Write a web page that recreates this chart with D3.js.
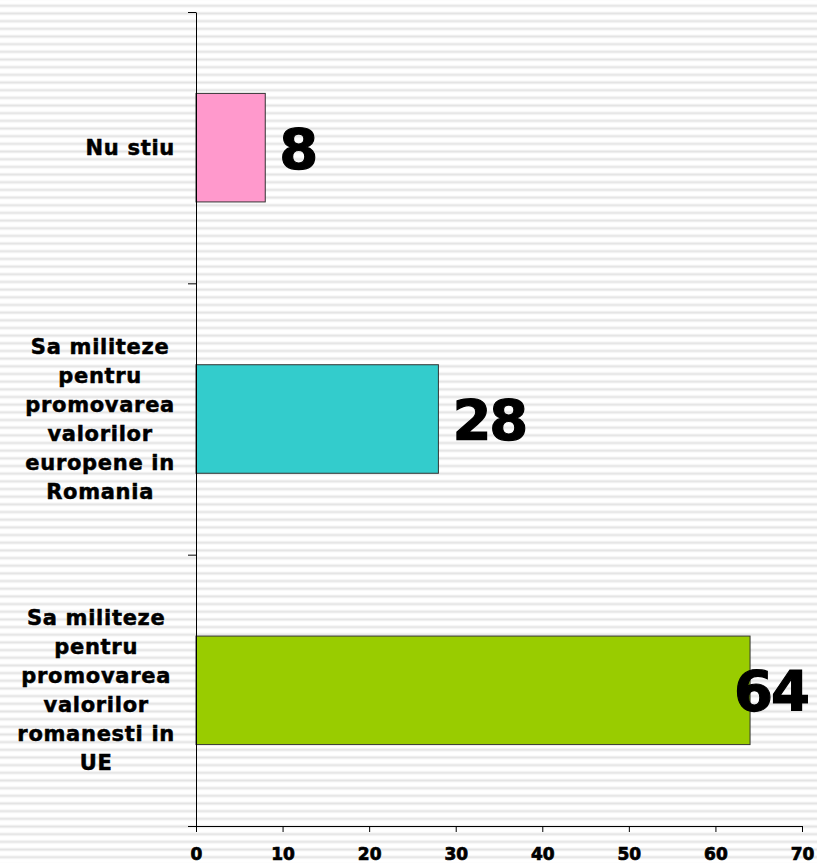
<!DOCTYPE html>
<html>
<head>
<meta charset="utf-8">
<script src="https://cdn.jsdelivr.net/npm/d3@7"></script>
<style>
  body { margin: 0; background: #fff; }
  svg text { font-family: "DejaVu Sans", Verdana, sans-serif; font-weight: bold; fill: #000; stroke: #000; }
</style>
</head>
<body>
<div id="chart"></div>
<script>
// data, top to bottom
var categories = ["Nu stiu", "europene", "romanesti"];
var categoryLines = [
    ["Nu stiu"],
    ["Sa militeze", "pentru", "promovarea", "valorilor", "europene in", "Romania"],
    ["Sa militeze", "pentru", "promovarea", "valorilor", "romanesti in", "UE"]
];
var values = [8, 28, 64];
var barColors = ["#FF99CC", "#33CCCC", "#99CC00"];
var xTicks = [0, 10, 20, 30, 40, 50, 60, 70];

var svgWidth = 817;
var svgHeight = 863;
var margin = { top: 12, left: 196, right: 15, bottom: 37 };
var width = 802 - margin.left;
var height = svgHeight - margin.top - margin.bottom;

var svg = d3.select("#chart")
    .append("svg")
    .attr("width", svgWidth)
    .attr("height", svgHeight);

// striped background
var pat = svg.append("defs").append("pattern")
    .attr("id", "stripes")
    .attr("patternUnits", "userSpaceOnUse")
    .attr("width", 10)
    .attr("height", 7.67)
    .attr("y", 1.5);
pat.append("rect").attr("width", 10).attr("height", 7.67).attr("fill", "#fff");
pat.append("rect").attr("y", 3.2).attr("width", 10).attr("height", 2.2).attr("fill", "#e4e4e4");
pat.append("rect").attr("y", 2.6).attr("width", 10).attr("height", 0.6).attr("fill", "#f2f2f2");
pat.append("rect").attr("y", 5.4).attr("width", 10).attr("height", 0.6).attr("fill", "#f2f2f2");

svg.append("rect")
    .attr("width", svgWidth)
    .attr("height", svgHeight)
    .attr("fill", "url(#stripes)");

var chartGroup = svg.append("g")
    .attr("transform", `translate(${margin.left}, ${margin.top})`);

var xScale = d3.scaleLinear().domain([0, 70]).range([0, width]);
var yScale = d3.scaleBand()
    .domain(categories)
    .range([0, height])
    .paddingInner(0.6)
    .paddingOuter(0.3);
var yBound = d3.scaleLinear().domain([0, 3]).range([height, 0]);

// bars
chartGroup.selectAll("rect.bar")
    .data(values)
    .enter()
    .append("rect")
    .attr("class", "bar")
    .attr("x", 0)
    .attr("y", (d, i) => yScale(categories[i]))
    .attr("width", d => xScale(d))
    .attr("height", yScale.bandwidth())
    .attr("fill", (d, i) => barColors[i])
    .attr("stroke", "#333")
    .attr("stroke-width", 1);

// axes
var yAxis = d3.axisLeft(yBound).ticks(3).tickSize(8).tickSizeOuter(0).tickFormat("");
var yg = chartGroup.append("g").call(yAxis);
yg.select(".domain").attr("stroke", "#000");

var xAxis = d3.axisBottom(xScale).tickValues(xTicks).tickSize(6).tickSizeOuter(0).tickPadding(16);
var xg = chartGroup.append("g")
    .attr("transform", `translate(0, ${height})`)
    .call(xAxis);
xg.selectAll("text")
    .style("font-size", "17px")
    .style("stroke-width", "0.7px");

// category labels, lines centred in a block right aligned at x=175
var lineGap = 29;
categoryLines.forEach(function (lines, i) {
    var cy = margin.top + yScale(categories[i]) + yScale.bandwidth() / 2;
    var g = svg.append("g");
    var texts = g.selectAll("text")
        .data(lines)
        .enter()
        .append("text")
        .style("font-size", "21px")
        .style("stroke-width", "0.5px")
        .attr("letter-spacing", 0.7)
        .attr("text-anchor", "middle")
        .attr("y", (d, j) => cy + (j - (lines.length - 1) / 2) * lineGap + 7.5)
        .text(d => d);
    var maxW = 0;
    texts.each(function () { maxW = Math.max(maxW, this.getComputedTextLength()); });
    texts.attr("x", 175 - maxW / 2);
});

// value labels
chartGroup.selectAll("text.value")
    .data(values)
    .enter()
    .append("text")
    .attr("class", "value")
    .style("font-size", "56px")
    .style("stroke-width", "1.2px")
    .attr("letter-spacing", -2)
    .attr("y", (d, i) => yScale(categories[i]) + yScale.bandwidth() / 2 + 20)
    .text(d => d)
    .each(function (d) {
        var w = this.getComputedTextLength();
        var x = xScale(d) + 14;
        if (x + w > 612) x = 612 - w;
        d3.select(this).attr("x", x);
    });
</script>
</body>
</html>
